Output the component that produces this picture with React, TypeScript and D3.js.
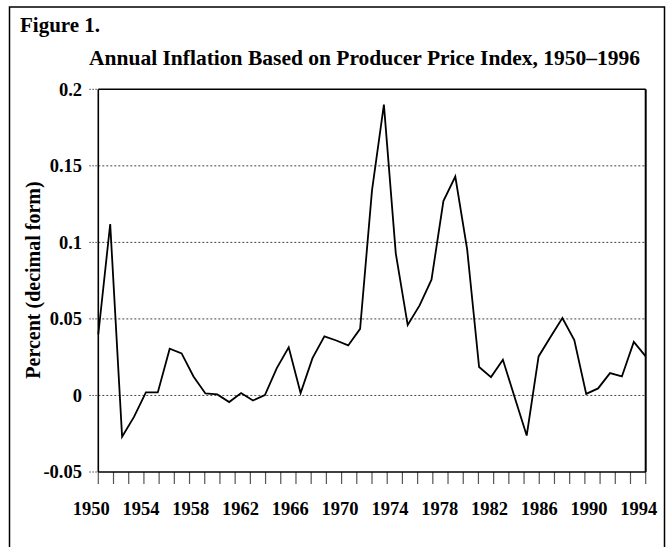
import React from "react";
import * as d3 from "d3";

const years: number[] = d3.range(1950, 1997);
const inflation: number[] = [
  0.040, 0.112, -0.027, -0.014, 0.002, 0.002, 0.0305, 0.0275, 0.0124, 0.0013,
  0.0007, -0.0043, 0.0016, -0.0033, 0.0003, 0.0179, 0.0314, 0.0016, 0.0244, 0.0386,
  0.0359, 0.0327, 0.0435, 0.1340, 0.1900, 0.0927, 0.0460, 0.0588, 0.0756, 0.1270,
  0.1430, 0.0952, 0.0186, 0.0120, 0.0233, -0.0015, -0.0262, 0.0255, 0.0382, 0.0506,
  0.0362, 0.0010, 0.0046, 0.0146, 0.0124, 0.0350, 0.0255,
];
const yTicks: number[] = [0.2, 0.15, 0.1, 0.05, 0, -0.05];
const yTickLabels: string[] = ["0.2", "0.15", "0.1", "0.05", "0", "-0.05"];
const xLabelYears: number[] = [1950, 1954, 1958, 1962, 1966, 1970, 1974, 1978, 1982, 1986, 1990, 1994];
const xMinorTickCount = 36;

const W = 670;
const H = 547;
const M = { left: 98.3, right: 645.7, top: 89.3, bottom: 472 };
const FONT = "'Liberation Serif', 'Times New Roman', serif";

export default function App() {
  const x = d3.scaleLinear().domain([1950, 1996]).range([M.left, M.right]);
  const xLab = d3.scaleLinear().domain([1950, 1994]).range([M.left, M.right]);
  const xMinor = d3.scaleLinear().domain([0, xMinorTickCount]).range([M.left, M.right]);
  const y = d3.scaleLinear().domain([-0.05, 0.2]).range([M.bottom, M.top]);

  const line = d3
    .line<number>()
    .x((_, i) => x(years[i]))
    .y((d) => y(d));

  return (
    <svg
      width={W}
      height={H}
      style={{ position: "absolute", left: 0, top: 0, background: "#fff" }}
      fontFamily={FONT}
      fontWeight="bold"
    >
      <rect x={0} y={0} width={W} height={H} fill="#fff" />
      {/* outer frame */}
      <rect x={9.5} y={7} width={655} height={620} fill="none" stroke="#000" strokeWidth={1.5} />

      <text x={20} y={32} fontSize={21}>Figure 1.</text>
      <text x={89} y={65} fontSize={21.5}>
        Annual Inflation Based on Producer Price Index, 1950–1996
      </text>

      {/* gridlines */}
      {yTicks.filter((t) => t !== 0.2 && t !== -0.05).map((t) => (
        <line
          key={"g" + t}
          x1={M.left}
          x2={M.right}
          y1={y(t)}
          y2={y(t)}
          stroke="#444"
          strokeWidth={1}
          strokeDasharray="2,2"
        />
      ))}
      {/* y tick marks (dotted) */}
      {yTicks.map((t) => (
        <line
          key={"yt" + t}
          x1={M.left - 9}
          x2={M.left}
          y1={y(t)}
          y2={y(t)}
          stroke="#444"
          strokeWidth={1}
          strokeDasharray="1.5,1.5"
        />
      ))}
      {/* y tick labels */}
      {yTicks.map((t, i) => (
        <text
          key={"yl" + t}
          x={82}
          y={y(t)}
          dy="0.35em"
          textAnchor="end"
          fontSize={18.5}
        >
          {yTickLabels[i]}
        </text>
      ))}

      {/* x minor ticks */}
      {d3.range(xMinorTickCount + 1).map((k) => (
        <line
          key={"xt" + k}
          x1={xMinor(k)}
          x2={xMinor(k)}
          y1={M.bottom}
          y2={M.bottom + 12}
          stroke="#555"
          strokeWidth={1.2}
        />
      ))}
      {/* x labels */}
      {xLabelYears.map((yr) => (
        <text key={"xl" + yr} x={xLab(yr) - 7} y={515} textAnchor="middle" fontSize={18.5}>
          {yr}
        </text>
      ))}

      {/* plot border */}
      <line x1={M.left} x2={M.right} y1={M.top} y2={M.top} stroke="#000" strokeWidth={1.6} />
      <line x1={M.left} x2={M.right} y1={M.bottom} y2={M.bottom} stroke="#000" strokeWidth={1.6} />
      <line x1={M.left} x2={M.left} y1={M.top} y2={M.bottom} stroke="#000" strokeWidth={1.6} />
      <line x1={M.right} x2={M.right} y1={M.top} y2={M.bottom} stroke="#000" strokeWidth={2} />

      {/* data line */}
      <path d={line(inflation) || ""} fill="none" stroke="#000" strokeWidth={1.8} strokeLinejoin="miter" />

      {/* y axis title */}
      <text
        transform={`translate(40, 280) rotate(-90)`}
        textAnchor="middle"
        fontSize={20}
      >
        Percent (decimal form)
      </text>
    </svg>
  );
}
